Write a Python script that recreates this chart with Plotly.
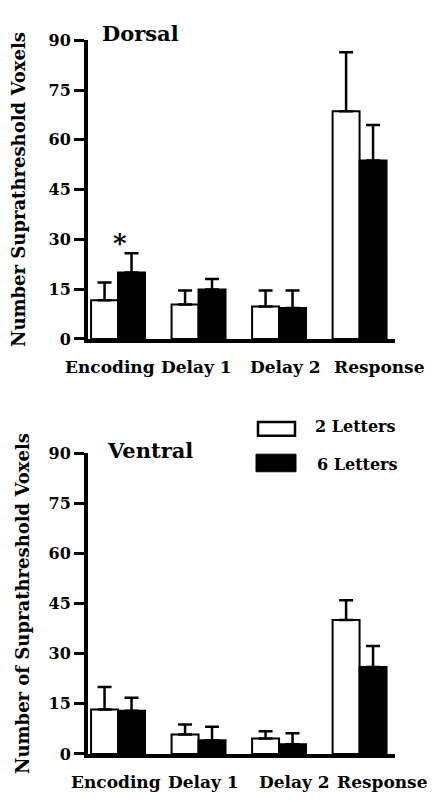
import plotly.graph_objects as go

# ---------------- data ----------------
categories = ["Encoding", "Delay 1", "Delay 2", "Response"]
series_names = ["2 Letters", "6 Letters"]
y_ticks = [0, 15, 30, 45, 60, 75, 90]

dorsal_2 = [11.7, 10.4, 9.8, 68.6]
dorsal_2_err = [5.3, 4.2, 4.8, 17.8]
dorsal_6 = [20.0, 14.9, 9.3, 53.8]
dorsal_6_err = [5.8, 3.2, 5.3, 10.7]

ventral_2 = [13.3, 5.8, 4.6, 40.1]
ventral_2_err = [6.7, 3.0, 2.2, 5.9]
ventral_6 = [12.9, 4.1, 2.9, 26.0]
ventral_6_err = [3.9, 4.0, 3.3, 6.3]

panel_titles = ["Dorsal", "Ventral"]
y_titles = ["Number Suprathreshold Voxels", "Number of Suprathreshold Voxels"]

# ---------------- style ----------------
W, H = 436, 802
FONT = "DejaVu Serif"


def px(p):
    return p / W


def py(p):
    return 1 - p / H


fig = go.Figure()

fills = ["white", "black"]


def add_panel(xa, ya, v2, e2, v6, e6):
    for name, vals, errs, fill in [(series_names[0], v2, e2, fills[0]),
                                   (series_names[1], v6, e6, fills[1])]:
        fig.add_trace(go.Bar(
            x=categories, y=vals, name=name, xaxis=xa, yaxis=ya,
            marker=dict(color=fill, line=dict(color="black", width=2)),
            error_y=dict(type="data", symmetric=False, array=errs,
                         arrayminus=[0] * len(errs), color="black",
                         thickness=2.5, width=7),
            showlegend=False,
        ))


add_panel("x", "y", dorsal_2, dorsal_2_err, dorsal_6, dorsal_6_err)
add_panel("x2", "y2", ventral_2, ventral_2_err, ventral_6, ventral_6_err)

xdom = [px(88), px(395)]
xrange = [-0.373, 3.44]


def xaxis_cfg(anchor):
    return dict(domain=xdom, anchor=anchor, type="category", range=xrange,
                showline=True, linewidth=4, linecolor="black",
                showticklabels=False, ticks="", showgrid=False, zeroline=False,
                fixedrange=True)


def yaxis_cfg(anchor, dom, title, standoff):
    return dict(domain=dom, anchor=anchor, range=[0, 90], tickvals=y_ticks,
                ticks="outside", ticklen=10, tickwidth=3, tickcolor="black",
                showline=True, linewidth=4, linecolor="black",
                showgrid=False, zeroline=False,
                tickfont=dict(family=FONT, size=16, color="black", weight="bold"),
                title=dict(text=title, standoff=standoff,
                           font=dict(family=FONT, size=18, color="black", weight="bold")))


fig.update_layout(
    width=W, height=H,
    margin=dict(l=0, r=0, t=0, b=0),
    paper_bgcolor="white", plot_bgcolor="white",
    barmode="group", bargap=0.33, bargroupgap=0,
    showlegend=False,
    xaxis=xaxis_cfg("y"),
    yaxis=yaxis_cfg("x", [py(338), py(32)], y_titles[0], 19),
    xaxis2=xaxis_cfg("y2"),
    yaxis2=yaxis_cfg("x2", [py(763), py(455)], y_titles[1], 15),
)

annotations = []
label_shift_top = [-8, -2, 6, 20]
label_shift_bottom = [-2, 5, 15, 23]
for xr, yr, shifts in [("x", "y", label_shift_top), ("x2", "y2", label_shift_bottom)]:
    for cat, s in zip(categories, shifts):
        annotations.append(dict(
            x=cat, xref=xr, y=0, yref=yr + " domain", xanchor="center",
            yanchor="middle", yshift=-28, xshift=s, showarrow=False, text=cat,
            font=dict(family=FONT, size=17, color="black", weight="bold")))

# panel titles
annotations.append(dict(x=px(100), y=py(25.5), xref="paper", yref="paper",
                        xanchor="left", yanchor="middle", showarrow=False,
                        text=panel_titles[0],
                        font=dict(family=FONT, size=21, color="black", weight="bold")))
annotations.append(dict(x=px(105), y=py(452.5), xref="paper", yref="paper",
                        xanchor="left", yanchor="middle", showarrow=False,
                        text=panel_titles[1],
                        font=dict(family=FONT, size=21, color="black", weight="bold")))

# significance star
annotations.append(dict(x=categories[0], xref="x",
                        y=dorsal_6[0] + dorsal_6_err[0], yref="y",
                        xanchor="center", yanchor="bottom", xshift=2, yshift=-7,
                        showarrow=False, text="*",
                        font=dict(family=FONT, size=26, color="black", weight="bold")))

# legend (drawn manually)
shapes = [
    dict(type="rect", xref="paper", yref="paper", x0=px(258), x1=px(295),
         y0=py(437), y1=py(423), fillcolor=fills[0],
         line=dict(color="black", width=2.5)),
    dict(type="rect", xref="paper", yref="paper", x0=px(256), x1=px(296),
         y0=py(474), y1=py(456), fillcolor=fills[1],
         line=dict(color="black", width=1)),
]
annotations.append(dict(x=px(313), y=py(428), xref="paper", yref="paper",
                        xanchor="left", yanchor="middle", showarrow=False,
                        text=series_names[0],
                        font=dict(family=FONT, size=16, color="black", weight="bold")))
annotations.append(dict(x=px(315), y=py(467), xref="paper", yref="paper",
                        xanchor="left", yanchor="middle", showarrow=False,
                        text=series_names[1],
                        font=dict(family=FONT, size=16, color="black", weight="bold")))

fig.update_layout(annotations=annotations, shapes=shapes)

fig.write_html("out.html")
